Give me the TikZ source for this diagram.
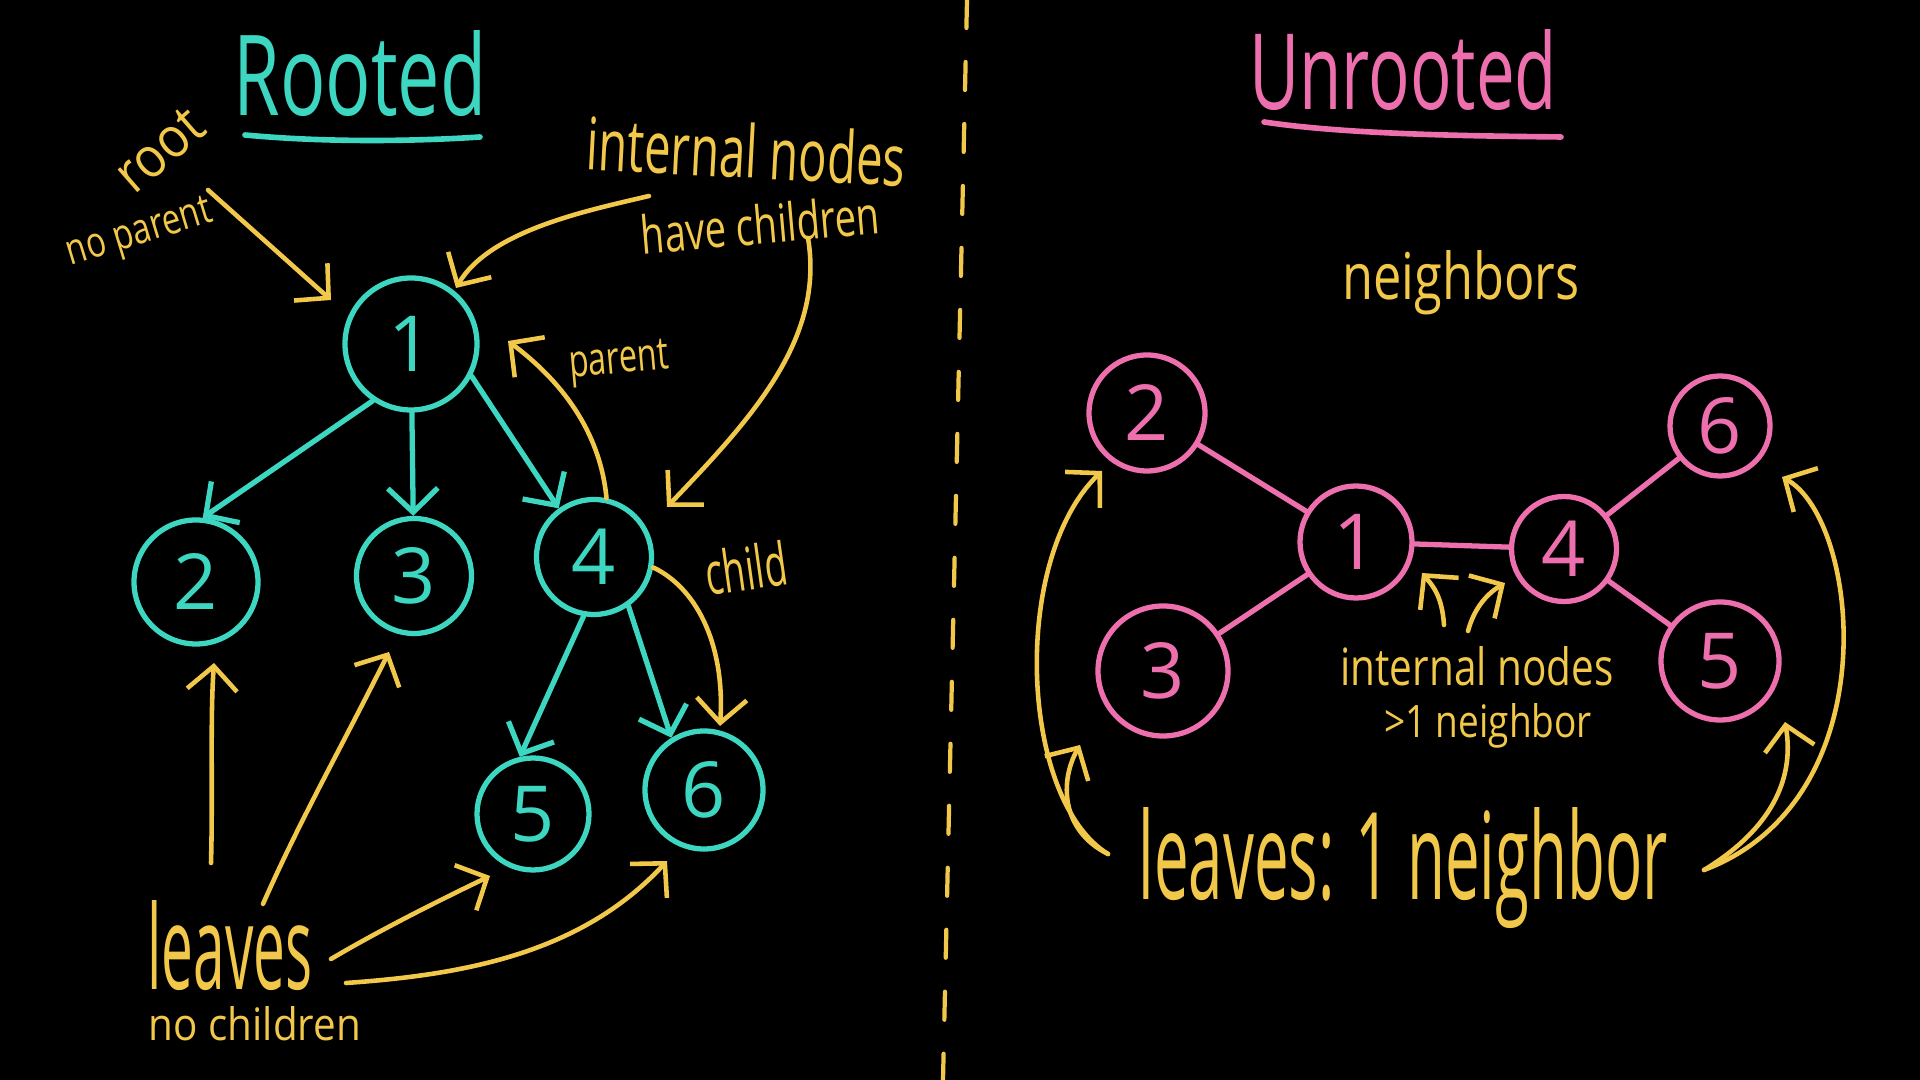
\documentclass[tikz,border=0pt]{standalone}
\usepackage{fontspec}
\setmainfont{Open Sans}
\usepackage{graphicx}
\usetikzlibrary{arrows.meta}

\definecolor{chalkteal}{HTML}{3DD6C1}
\definecolor{chalkpink}{HTML}{EE6FAE}
\definecolor{chalkyellow}{HTML}{F2C84B}

\newcommand{\scrawl}[3]{\resizebox{#1}{#2}{#3}}

\begin{document}
\begin{tikzpicture}

\tikzstyle{tnode}=[draw=chalkteal, text=chalkteal, circle, line width=1.5pt, inner sep=0pt, font=\fontsize{22}{22}\selectfont]
\tikzstyle{unode}=[draw=chalkpink, text=chalkpink, circle, line width=1.5pt, inner sep=0pt, font=\fontsize{22}{22}\selectfont]
\tikzstyle{tedge}=[draw=chalkteal, line width=1.5pt, line cap=round, -{Straight Barb[length=2.4mm, width=5mm]}]
\tikzstyle{uedge}=[draw=chalkpink, line width=1.5pt, line cap=round]
\tikzstyle{note}=[draw=chalkyellow, line width=1.3pt, line cap=round, -{Straight Barb[length=2.4mm, width=5mm]}]
\tikzstyle{words}=[text=chalkyellow, inner sep=0pt]

\fill [black] (0,0) rectangle (19.2,10.8);
\useasboundingbox (0,0) rectangle (19.2,10.8);

% divider
\draw [chalkyellow, line width=1.2pt, line cap=round, dash pattern=on 0.28cm off 0.34cm] (9.67,10.8) -- (9.43,0);

% titles
\node [anchor=base, text=chalkteal, inner sep=0pt] (rooted) at (3.60,9.64) {\scrawl{2.53cm}{0.85cm}{Rooted}};
\draw [chalkteal, line width=1.6pt, line cap=round] (2.45,9.45) .. controls (3.3,9.37) and (4.2,9.39) .. (4.80,9.43);
\node [anchor=base, text=chalkpink, inner sep=0pt] (unrooted) at (14.03,9.70) {\scrawl{3.08cm}{0.80cm}{Unrooted}};
\draw [chalkpink, line width=1.6pt, line cap=round] (12.64,9.58) .. controls (13.5,9.45) and (14.8,9.44) .. (15.61,9.43);

% rooted tree
\node [tnode, minimum size=1.32cm] (r1) at (4.11,7.36) {1};
\node [tnode, minimum size=1.24cm] (r2) at (1.96,4.98) {2};
\node [tnode, minimum size=1.15cm] (r3) at (4.14,5.04) {3};
\node [tnode, minimum size=1.15cm] (r4) at (5.94,5.23) {4};
\node [tnode, minimum size=1.12cm] (r5) at (5.33,2.66) {5};
\node [tnode, minimum size=1.18cm] (r6) at (7.04,2.90) {6};

\path [tedge] (r1.236) -- (r2.84);
\path [tedge] (r1) -- (r3);
\path [tedge] (r1.-28) -- (r4.126);
\path [tedge] (r4.260) -- (r5.103);
\path [tedge] (r4.-55) -- (r6.122);

% rooted labels
\node [words, rotate=41] (root) at (1.60,9.30) {\scrawl{0.98cm}{0.37cm}{root}};
\node [words, rotate=17] (noparent) at (1.40,8.45) {\scrawl{1.5cm}{0.28cm}{no parent}};
\node [words, anchor=base, rotate=-3] (intl) at (7.45,9.02) {\scrawl{3.19cm}{0.55cm}{internal nodes}};
\node [words, anchor=base, rotate=5] (havech) at (7.62,8.36) {\scrawl{2.39cm}{0.40cm}{have children}};
\node [words, anchor=base, rotate=5] (parent) at (6.20,7.07) {\scrawl{1.0cm}{0.30cm}{parent}};
\node [words, anchor=base, rotate=8] (child) at (7.49,4.90) {\scrawl{0.82cm}{0.45cm}{child}};
\node [words, anchor=base] (leaves) at (2.30,0.90) {\scrawl{1.65cm}{0.89cm}{leaves}};
\node [words, anchor=base] (nochildren) at (2.55,0.39) {\scrawl{2.12cm}{0.34cm}{no children}};

\coordinate (roottail) at (2.08,8.90);
\coordinate (roottip) at (3.31,7.80);
\coordinate (intltail) at (6.49,8.84);
\coordinate (intltip) at (4.56,7.92);
\coordinate (havetail) at (8.08,8.42);
\coordinate (havetip) at (6.67,5.73);
\coordinate (partip) at (5.08,7.39);
\coordinate (chtip) at (7.20,3.54);
\coordinate (lvtail2) at (2.11,2.17);
\coordinate (lvtip2) at (2.14,4.17);
\coordinate (lvtail3) at (2.63,1.76);
\coordinate (lvtip3) at (3.89,4.28);
\coordinate (lvtail5) at (3.31,1.21);
\coordinate (lvtip5) at (4.90,2.04);
\coordinate (lvtail6) at (3.46,0.97);
\coordinate (lvtip6) at (6.67,2.19);

\path [note] (roottail) -- (roottip);
\path [note] (intltail) .. controls (5.9,8.70) and (4.9,8.50) .. (intltip);
\path [note] (havetail) .. controls (8.25,7.40) and (7.50,6.60) .. (havetip);
\path [note] (r4.78) .. controls (6.00,6.50) and (5.60,7.00) .. (partip);
\path [note] (r4.-10) .. controls (7.00,4.90) and (7.25,4.30) .. (chtip);
\path [note] (lvtail2) .. controls (2.13,2.90) and (2.10,3.60) .. (lvtip2);
\path [note] (lvtail3) .. controls (3.00,2.60) and (3.40,3.30) .. (lvtip3);
\path [note] (lvtail5) .. controls (3.80,1.50) and (4.40,1.80) .. (lvtip5);
\path [note] (lvtail6) .. controls (4.60,1.05) and (5.80,1.25) .. (lvtip6);

% unrooted tree
\node [unode, minimum size=1.16cm] (u2) at (11.47,6.67) {2};
\node [unode, minimum size=1.12cm] (u1) at (13.56,5.38) {1};
\node [unode, minimum size=1.05cm] (u4) at (15.64,5.31) {4};
\node [unode, minimum size=1.00cm] (u6) at (17.20,6.54) {6};
\node [unode, minimum size=1.30cm] (u3) at (11.63,4.09) {3};
\node [unode, minimum size=1.18cm] (u5) at (17.20,4.19) {5};

\path [uedge] (u2) -- (u1);
\path [uedge] (u3) -- (u1);
\path [uedge] (u1) -- (u4);
\path [uedge] (u4) -- (u6);
\path [uedge] (u4) -- (u5);

% unrooted labels
\node [words, anchor=base] (neighbors) at (14.61,7.80) {\scrawl{2.37cm}{0.49cm}{neighbors}};
\node [words, anchor=base] (uintl) at (14.77,3.94) {\scrawl{2.73cm}{0.39cm}{internal nodes}};
\node [words, anchor=base] (more) at (14.88,3.42) {\scrawl{2.08cm}{0.34cm}{>1 neighbor}};
\node [words, anchor=base] (uleaves) at (14.03,1.80) {\scrawl{5.29cm}{0.92cm}{leaves: 1 neighbor}};

\coordinate (intail1) at (14.44,4.55);
\coordinate (intip1) at (14.22,5.07);
\coordinate (intail4) at (14.68,4.49);
\coordinate (intip4) at (15.05,4.97);
\coordinate (lftail) at (11.08,2.26);
\coordinate (lftip3) at (10.80,3.35);
\coordinate (lftip2) at (11.02,6.09);
\coordinate (rttail) at (17.04,2.10);
\coordinate (rttip5) at (17.85,3.58);
\coordinate (rttip6) at (17.82,6.03);

\path [note] (intail1) .. controls (14.42,4.85) and (14.32,4.95) .. (intip1);
\path [note] (intail4) .. controls (14.75,4.75) and (14.90,4.88) .. (intip4);
\path [note] (lftail) .. controls (10.60,2.50) and (10.60,3.00) .. (lftip3);
\path [note] (lftail) .. controls (10.20,2.80) and (10.10,5.20) .. (lftip2);
\path [note] (rttail) .. controls (17.70,2.50) and (17.95,3.00) .. (rttip5);
\path [note] (rttail) .. controls (18.90,2.80) and (18.60,5.60) .. (rttip6);

\end{tikzpicture}
\end{document}
